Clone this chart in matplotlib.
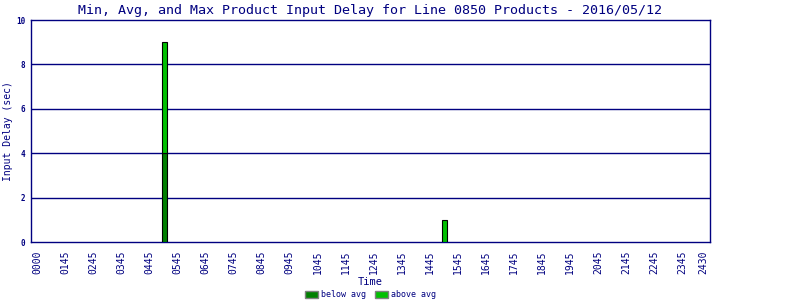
import numpy as np
import matplotlib.pyplot as plt

# data
tick_labels = ["0000", "0145", "0245", "0345", "0445", "0545", "0645", "0745", "0845",
               "0945", "1045", "1145", "1245", "1345", "1445", "1545", "1645", "1745",
               "1845", "1945", "2045", "2145", "2245", "2345", "2430"]
tick_pos = list(range(24)) + [23.77]
bar_pos = [4.53, 14.53]
below_avg = [4.0, 0.0]
above_avg = [5.0, 1.0]

navy = "#000080"
dark_green = "#008000"
light_green = "#00c000"
mono = "DejaVu Sans Mono"

fig = plt.figure(figsize=(8, 3), dpi=100)
ax = fig.add_axes([31 / 800, 58 / 300, 679 / 800, 222 / 300])

w = 0.18
ax.bar(bar_pos, below_avg, width=w, color=dark_green, edgecolor="black", linewidth=0.8,
       label="below avg", zorder=3)
ax.bar(bar_pos, above_avg, width=w, bottom=below_avg, color=light_green, edgecolor="black",
       linewidth=0.8, label="above avg", zorder=3)

ax.set_xlim(-0.24, 24.0)
ax.set_ylim(0, 10)
ax.set_yticks([0, 2, 4, 6, 8, 10])
ax.set_yticklabels(["0", "2", "4", "6", "8", "10"], fontsize=5.5, family=mono,
                   color=navy, fontweight="bold")
ax.set_xticks(tick_pos)
ax.set_xticklabels(tick_labels, rotation=90, fontsize=7, family=mono, color=navy)
ax.tick_params(length=0, pad=6)
ax.tick_params(axis="y", pad=4)
for y in [2, 4, 6, 8]:
    ax.axhline(y, color=navy, linewidth=1, zorder=1)
for s in ax.spines.values():
    s.set_color(navy)
    s.set_linewidth(1)

ax.set_title("Min, Avg, and Max Product Input Delay for Line 0850 Products - 2016/05/12",
             fontsize=9.6, family=mono, color=navy, pad=4)
ax.set_ylabel("Input Delay (sec)", fontsize=7, family=mono, color=navy)
ax.yaxis.set_label_coords(-0.027, 0.5)
ax.set_xlabel("Time", fontsize=7.5, family=mono, color=navy)
ax.xaxis.set_label_coords(0.5, -0.158)

leg = ax.legend(loc="center", bbox_to_anchor=(0.5, -0.238), ncol=2, frameon=False,
                prop={"family": mono, "size": 6}, handlelength=1.6, handleheight=1.0,
                columnspacing=1.0, handletextpad=0.4, borderpad=0)
for t in leg.get_texts():
    t.set_color(navy)
for p in leg.get_patches():
    p.set_edgecolor("gray")
    p.set_linewidth(1)

fig.savefig("out.png", dpi=100)
